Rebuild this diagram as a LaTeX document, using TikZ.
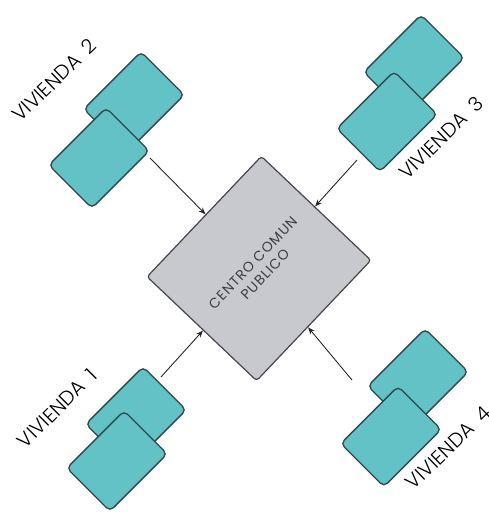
\documentclass[tikz,border=0pt]{standalone}
\usepackage{fontspec}
\setmainfont{Poppins}
\newfontfamily\labfont{Poppins Light}
\newfontfamily\centrefont[LetterSpace=7]{Poppins}
\usetikzlibrary{arrows.meta}
\definecolor{tealfill}{RGB}{98,194,198}
\definecolor{tealline}{RGB}{45,72,76}
\definecolor{boxgray}{RGB}{200,201,206}
\definecolor{boxline}{RGB}{70,70,72}
\definecolor{txtgray}{RGB}{62,62,62}
\begin{document}
\begin{tikzpicture}[x=1pt,y=-1pt,
  house/.style={draw=tealline, line width=1.3pt, fill=tealfill, rounded corners=5pt,
    minimum width=81pt, minimum height=61pt, inner sep=0pt, rotate=45},
  hub/.style={draw=boxline, line width=1.2pt, fill=boxgray, rounded corners=3pt,
    minimum width=166pt, minimum height=151pt, inner sep=0pt, rotate=46.5,
    align=center, text=txtgray, font=\centrefont\fontsize{14}{17}\selectfont},
  lab/.style={font=\labfont\fontsize{20}{20}\selectfont, inner sep=0pt, text=black},
  link/.style={draw=black!85, line width=0.9pt, -{Stealth[length=7pt,width=5.5pt]}}]
\useasboundingbox (0,0) rectangle (489,517);
% houses
\node[house] (v2b) at (134,102) {};
\node[house] (v2f) at (99,158) {};
\node[house] (v3b) at (414,65) {};
\node[house] (v3f) at (387,121.5) {};
\node[house] (v1b) at (136,417) {};
\node[house] (v1f) at (117,461) {};
\node[house] (v4b) at (418,379) {};
\node[house] (v4f) at (391,436.5) {};
% hub
\node[hub] (hub) at (259,268.5) {CENTRO COMUN\\PUBLICO};
% connectors
\coordinate (s2) at (150,158);
\coordinate (s3) at (357,160);
\coordinate (s1) at (161,377);
\coordinate (s4) at (352,380);
\draw[link] (s2) -- (hub);
\draw[link] (s3) -- (hub);
\draw[link] (s1) -- (hub);
\draw[link] (s4) -- (hub);
% labels
\node[lab, rotate=44] (l2) at (54,80) {VIVIENDA\hspace{10pt}2};
\node[lab, rotate=44] (l3) at (441,138) {VIVIENDA\hspace{10pt}3};
\node[lab, rotate=45] (l1) at (57,408) {VIVIENDA\hspace{10pt}1};
\node[lab, rotate=44] (l4) at (448,448) {VIVIENDA\hspace{10pt}4};
\end{tikzpicture}
\end{document}
